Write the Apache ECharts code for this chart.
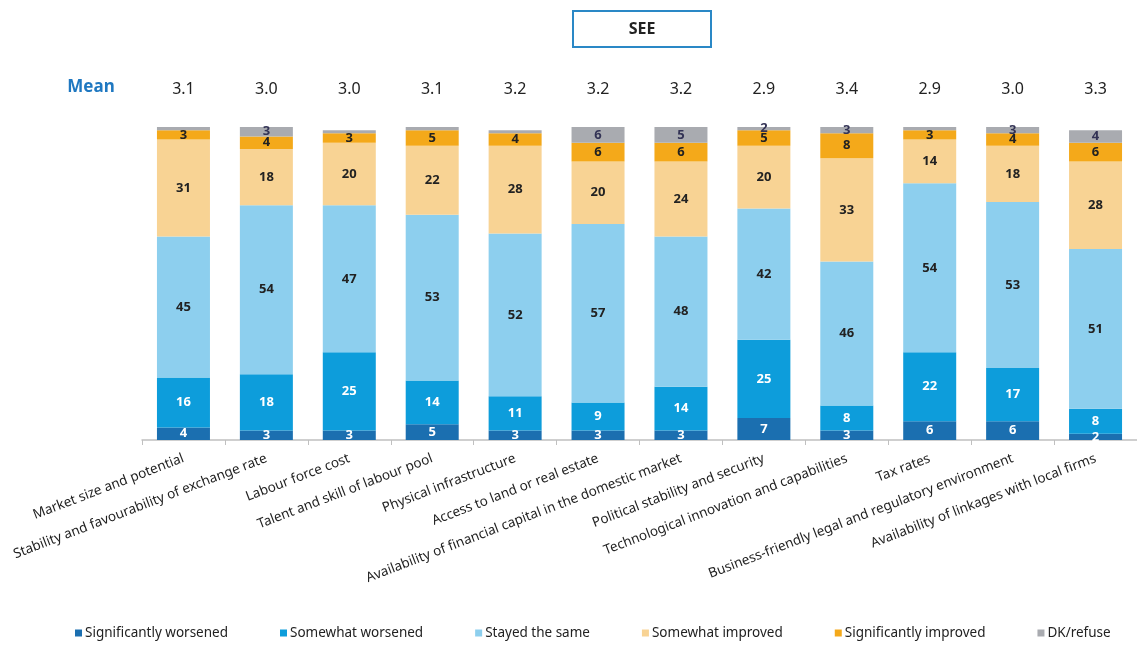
<!DOCTYPE html>
<html>
<head>
<meta charset="utf-8">
<script src="https://cdn.jsdelivr.net/npm/echarts@6/dist/echarts.min.js"></script>
<style>
html,body{margin:0;padding:0;background:#fff;}
#chart{width:1137px;height:646px;}
</style>
</head>
<body>
<div id="chart"></div>
<script>
var categories = [
  'Market size and potential',
  'Stability and favourability of exchange rate',
  'Labour force cost',
  'Talent and skill of labour pool',
  'Physical infrastructure',
  'Access to land or real estate',
  'Availability of financial capital in the domestic market',
  'Political stability and security',
  'Technological innovation and capabilities',
  'Tax rates',
  'Business-friendly legal and regulatory environment',
  'Availability of linkages with local firms'
];
var means = ['3.1','3.0','3.0','3.1','3.2','3.2','3.2','2.9','3.4','2.9','3.0','3.3'];
var sigWorsened  = [4, 3, 3, 5, 3, 3, 3, 7, 3, 6, 6, 2];
var someWorsened = [16,18,25,14,11, 9,14,25, 8,22,17, 8];
var stayedSame   = [45,54,47,53,52,57,48,42,46,54,53,51];
var someImproved = [31,18,20,22,28,20,24,20,33,14,18,28];
var sigImproved  = [3, 4, 3, 5, 4, 6, 6, 5, 8, 3, 4, 6];
var dkRefuse     = [1, 3, 1, 1, 1, 6, 5, 2, 3, 1, 3, 4];

var seriesNames = ['Significantly worsened','Somewhat worsened','Stayed the same','Somewhat improved','Significantly improved','DK/refuse'];
var seriesData = [sigWorsened, someWorsened, stayedSame, someImproved, sigImproved, dkRefuse];
var colors = ['#1b6fb0','#0d9ddb','#8dcfee','#f8d394','#f4a91a','#a9abb0'];
var labelColors = ['#ffffff','#ffffff','#222222','#222222','#222222','#333355'];

var chart = echarts.init(document.getElementById('chart'), null, {renderer:'canvas'});
var FONT = '"Noto Sans", "DejaVu Sans", sans-serif';

var series = seriesData.map(function(d, i){
  return {
    name: seriesNames[i],
    type: 'bar',
    stack: 'all',
    xAxisIndex: 0,
    barWidth: 53,
    data: d,
    itemStyle: {color: colors[i]},
    label: {
      show: true,
      position: 'inside',
      color: labelColors[i],
      fontSize: 13,
      fontWeight: 'bold',
      fontFamily: FONT,
      formatter: function(p){ return (i === 5 && p.value < 2) ? '' : p.value; }
    }
  };
});

chart.setOption({
  animation: false,
  backgroundColor: '#ffffff',
  textStyle: {fontFamily: FONT},
  grid: {left: 142, top: 127, width: 996, height: 313, containLabel: false},
  xAxis: [{
    type: 'category',
    data: categories,
    position: 'bottom',
    axisLine: {show: true, lineStyle: {color: '#c0c0c0', width: 1.5}},
    axisTick: {show: true, length: 5, lineStyle: {color: '#c0c0c0'}},
    axisLabel: {rotate: 21, margin: 18, fontSize: 13.5, color: '#222', fontFamily: FONT, interval: 0}
  },{
    type: 'category',
    data: means,
    position: 'top',
    offset: 30,
    axisLine: {show: false},
    axisTick: {show: false},
    axisLabel: {fontSize: 16, color: '#222', fontFamily: FONT, margin: 0, interval: 0}
  }],
  yAxis: {type: 'value', min: 0, max: 100, show: false},
  legend: {
    bottom: 1,
    left: 70,
    itemWidth: 7,
    itemHeight: 7,
    itemGap: 52,
    icon: 'rect',
    textStyle: {fontSize: 13.5, color: '#222', fontFamily: FONT, padding: [0,0,0,-2]},
    data: seriesNames
  },
  graphic: [
    {type: 'rect', shape: {x: 573, y: 11, width: 138, height: 36}, style: {fill: '#fff', stroke: '#2a88c6', lineWidth: 2}},
    {type: 'text', x: 642, y: 29, style: {text: 'SEE', align: 'center', verticalAlign: 'middle', fill: '#222', font: 'bold 16px ' + FONT}},
    {type: 'text', x: 91, y: 87, style: {text: 'Mean', align: 'center', verticalAlign: 'middle', fill: '#1f78c1', font: 'bold 17px ' + FONT}}
  ],
  series: series
});
</script>
</body>
</html>
